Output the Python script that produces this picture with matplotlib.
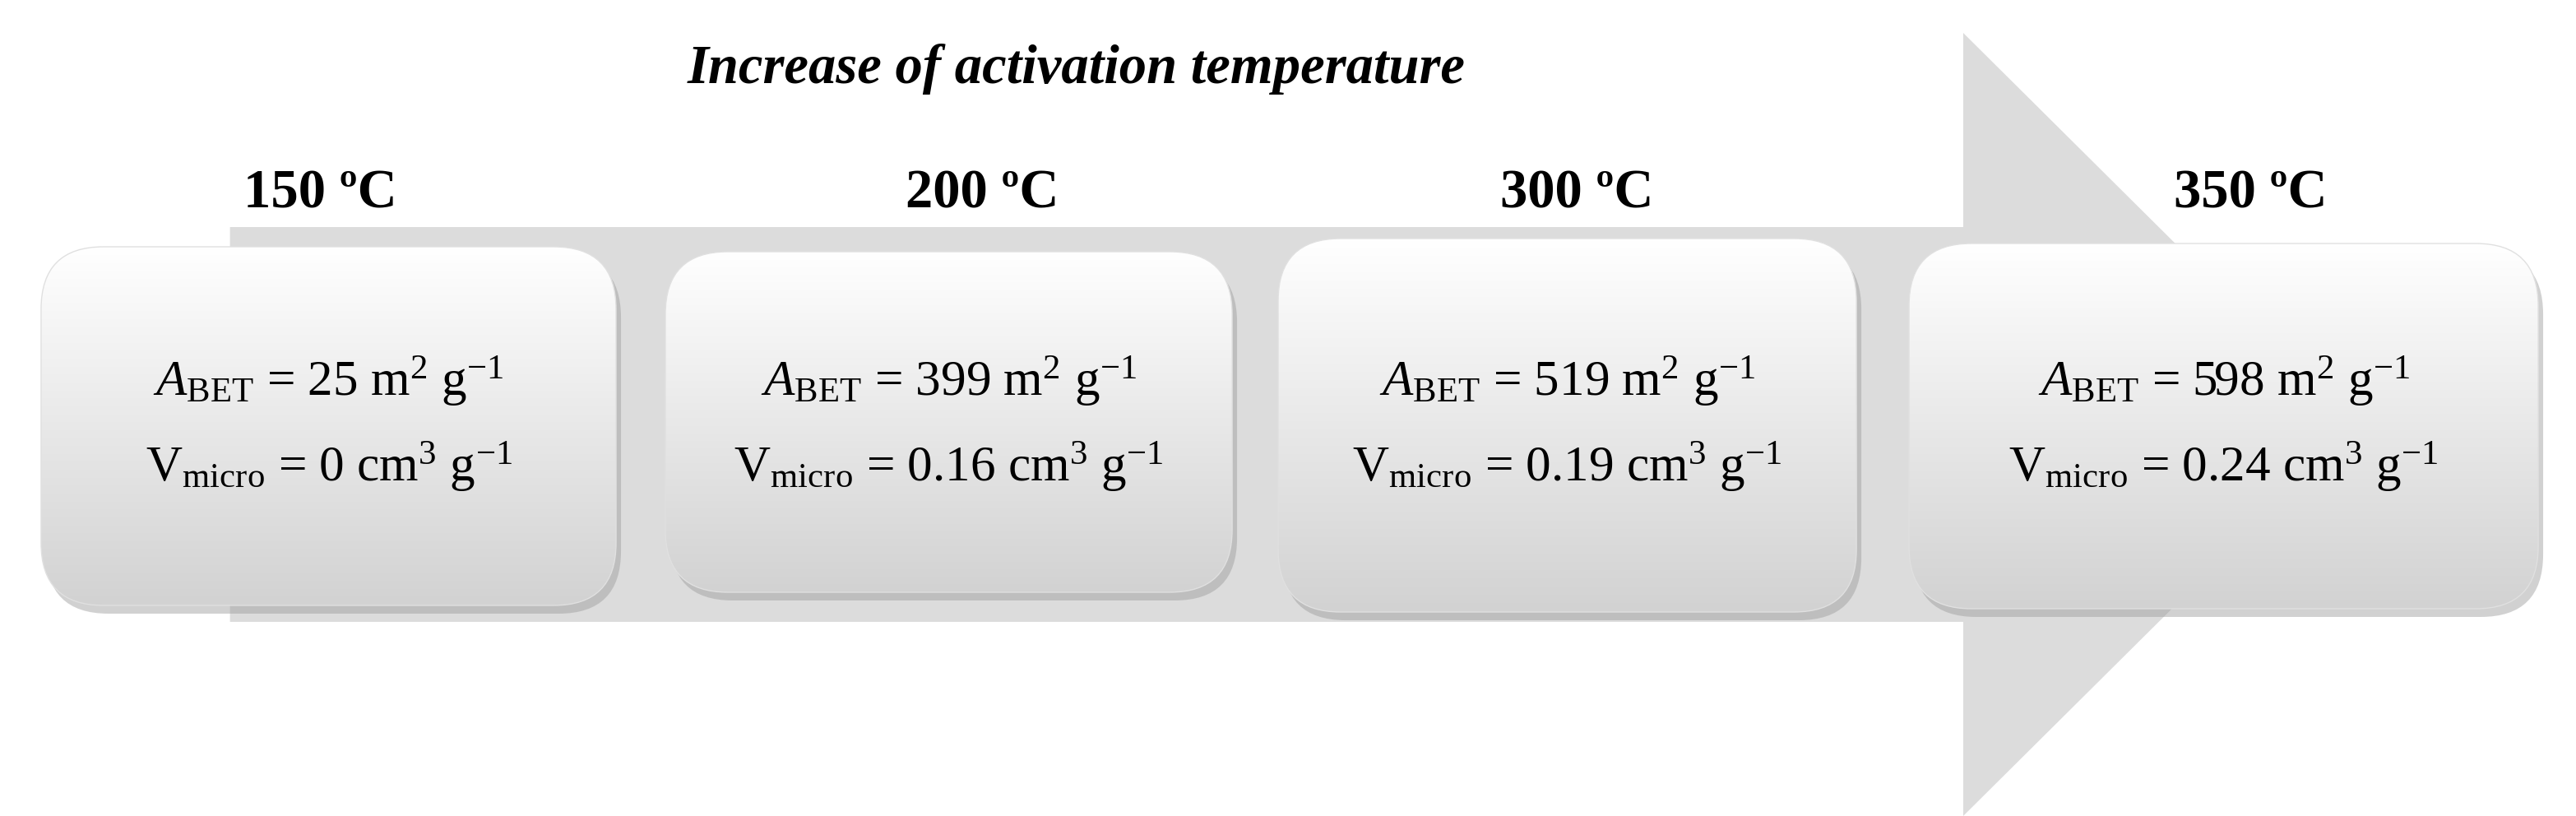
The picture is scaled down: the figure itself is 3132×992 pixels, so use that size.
import matplotlib.pyplot as plt
from matplotlib.patches import FancyBboxPatch, Polygon
import numpy as np

plt.rcParams['mathtext.fontset'] = 'custom'
plt.rcParams['mathtext.rm'] = 'Liberation Serif'
plt.rcParams['mathtext.it'] = 'Liberation Serif:style=italic'
plt.rcParams['font.family'] = ['Liberation Serif', 'DejaVu Serif']

temps = ["150 ºC", "200 ºC", "300 ºC", "350 ºC"]
areas = ["25", "399", "519", "598"]
vmicro = ["0", "0.16", "0.19", "0.24"]
title = "Increase of activation temperature"

# box extents in 1568x496 display units: (x0, x1, y0, y1)
boxes = [(25, 375, 150, 368), (405, 750, 153, 360),
         (778, 1130, 145, 372), (1162, 1545, 148, 370)]
label_x = [195, 598, 960, 1370]

fig = plt.figure(figsize=(31.32, 9.92), dpi=100)
ax = fig.add_axes([0, 0, 1, 1])
ax.set_xlim(0, 1568)
ax.set_ylim(496, 0)
ax.axis("off")

# big arrow
arrow = Polygon([(140, 138), (1195, 138), (1195, 20), (1435, 258),
                 (1195, 496), (1195, 378), (140, 378)],
                closed=True, fc="#dcdcdc", ec="none", zorder=1)
ax.add_patch(arrow)

grad = np.linspace(1, 0, 256).reshape(-1, 1)
cmap = plt.matplotlib.colors.LinearSegmentedColormap.from_list("g", ["#d2d2d2", "#ffffff"])
for (x0, x1, y0, y1) in boxes:
    shadow = FancyBboxPatch((x0 + 3, y0 + 5), x1 - x0, y1 - y0,
                            boxstyle="round,pad=0,rounding_size=38",
                            fc="#9a9a9a", ec="none", alpha=0.45, zorder=2)
    ax.add_patch(shadow)
    patch = FancyBboxPatch((x0, y0), x1 - x0, y1 - y0,
                           boxstyle="round,pad=0,rounding_size=38",
                           fc="none", ec="#e0e0e0", lw=1, zorder=4)
    ax.add_patch(patch)
    im = ax.imshow(grad, cmap=cmap, extent=(x0, x1, y1, y0), aspect="auto",
                   vmin=0, vmax=1, zorder=3, interpolation="bilinear")
    im.set_clip_path(patch)

for i in range(len(temps)):
    x0, x1, y0, y1 = boxes[i]
    cx = (x0 + x1) / 2
    ax.text(label_x[i], 118, temps[i], fontsize=48, fontweight="bold",
            ha="center", va="center", zorder=5)
    ax.text(cx, 232, r"$\mathit{A}_{\mathrm{BET}}$ = " + areas[i] +
            " m$^{2}$ g$^{\u22121}$",
            fontsize=44, ha="center", va="center", zorder=5)
    ax.text(cx, 284, r"V$_{\mathrm{micro}}$ = " + vmicro[i] +
            " cm$^{3}$ g$^{\u22121}$",
            fontsize=44, ha="center", va="center", zorder=5)

ax.text(655, 42, title, fontsize=48, fontweight="bold", fontstyle="italic",
        ha="center", va="center", zorder=5)

fig.savefig("out.png", dpi=100)
